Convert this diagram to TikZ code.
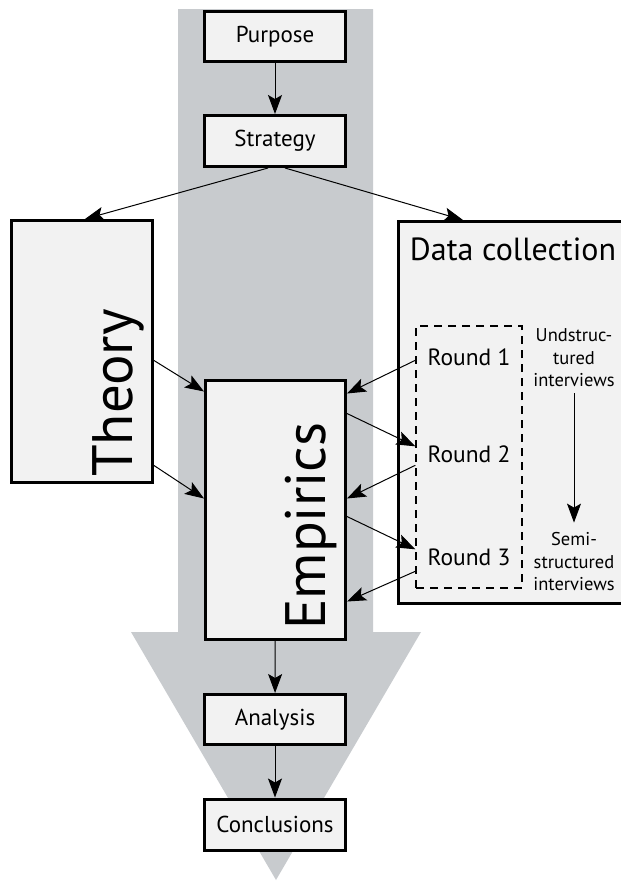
\documentclass[tikz,border=0pt]{standalone}
\usepackage{fontspec}
\setmainfont{PT Sans}
\usetikzlibrary{arrows.meta}
\definecolor{flowgray}{RGB}{200,203,206}
\definecolor{boxfill}{RGB}{242,242,242}
\tikzset{
  stepbox/.style={draw, line width=3pt, fill=boxfill, inner sep=0pt,
    minimum width=141pt, minimum height=51pt, font=\fontsize{23}{26}\selectfont},
  bigbox/.style={draw, line width=3pt, fill=boxfill, inner sep=0pt},
  bigword/.style={font=\fontsize{57}{60}\selectfont, inner sep=0pt},
  roundtext/.style={font=\fontsize{23.5}{27}\selectfont, inner sep=0pt},
  sidetext/.style={font=\fontsize{18.5}{22.5}\selectfont, align=center, inner sep=0pt},
  flow/.style={-{Stealth[length=19pt,width=14pt,inset=4pt]}, line width=1pt}
}
\begin{document}
\begin{tikzpicture}[x=1pt,y=-1pt]
\clip (0,0) rectangle (621,881);
% big grey arrow behind everything
\fill[flowgray] (178,9) -- (373,9) -- (373,632) -- (421,632) -- (276,880)
  -- (131,632) -- (178,632) -- cycle;
% boxes
\node[stepbox, minimum height=50pt] (purpose) at (275,36.5) {Purpose};
\node[stepbox] (strategy) at (275,141) {Strategy};
\node[bigbox, minimum width=141pt, minimum height=262pt] (theory) at (82,351.5) {};
\node[bigword, rotate=90, anchor=base west] (theorylbl) at (132,477) {Theory};
\node[bigbox, minimum width=140pt, minimum height=259pt] (empirics) at (275.5,510) {};
\node[bigword, rotate=90, anchor=base west] (empiricslbl) at (325,630) {Empirics};
\node[bigbox, minimum width=240pt, minimum height=382pt] (datacoll) at (518.5,412.5) {};
\node[font=\fontsize{32}{36}\selectfont, inner sep=0pt, anchor=base] (datalbl) at (513,260) {Data collection};
\node[draw, line width=1.4pt, dash pattern=on 8pt off 6pt, minimum width=106pt,
  minimum height=262pt, inner sep=0pt] (rounds) at (469,457) {};
\node[roundtext, anchor=base] (round1) at (469,365) {Round 1};
\node[roundtext, anchor=base] (round2) at (469,462) {Round 2};
\node[roundtext, anchor=base] (round3) at (469,565) {Round 3};
\node[sidetext] (unstruct) at (574,358) {Undstruc-\\tured\\interviews};
\node[sidetext] (semistruct) at (574,562) {Semi-\\structured\\interviews};
\node[stepbox, minimum height=50pt] (analysis) at (275,719.5) {Analysis};
\node[stepbox] (conclusions) at (275,824.5) {Conclusions};
% connectors
\draw[flow] (purpose) -- (strategy);
\draw[flow] ([xshift=-7pt]strategy.south) -- ([xshift=3pt]theory.north);
\draw[flow] ([xshift=10pt]strategy.south) -- ([xshift=66pt]datacoll.north west);
\draw[flow] ([yshift=-141.5pt]theory.north east) -- ([yshift=-12.5pt]empirics.north west);
\draw[flow] ([yshift=-246.5pt]theory.north east) -- ([yshift=-119.5pt]empirics.north west);
\draw[flow] ([yshift=-35pt]rounds.north west) -- ([yshift=-14.5pt]empirics.north east);
\draw[flow] ([yshift=-34.5pt]empirics.north east) -- ([yshift=-121pt]rounds.north west);
\draw[flow] ([yshift=-140pt]rounds.north west) -- ([yshift=-119.5pt]empirics.north east);
\draw[flow] ([yshift=-137.5pt]empirics.north east) -- ([yshift=-224pt]rounds.north west);
\draw[flow] ([yshift=-246pt]rounds.north west) -- ([yshift=-222.5pt]empirics.north east);
\draw[flow] ([yshift=-6pt]unstruct.south) -- ([yshift=10pt]semistruct.north);
\draw[flow] (empirics) -- (analysis);
\draw[flow] (analysis) -- (conclusions);
\end{tikzpicture}
\end{document}
